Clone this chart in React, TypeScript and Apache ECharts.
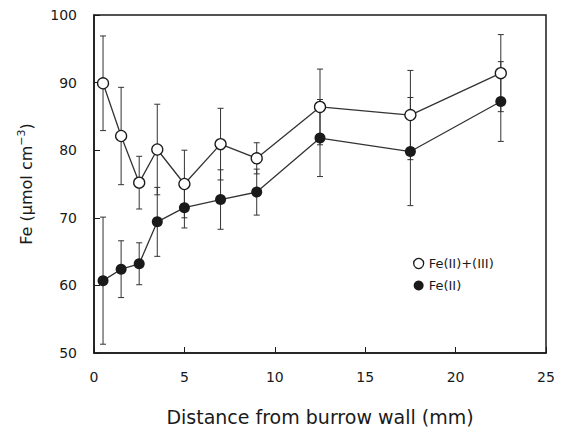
import React, { useEffect, useRef } from "react";
import * as echarts from "echarts";

const distance = [0.5, 1.5, 2.5, 3.5, 5, 7, 9, 12.5, 17.5, 22.5];
const feTotal = [89.9, 82.1, 75.2, 80.1, 75.0, 80.9, 78.8, 86.4, 85.2, 91.4];
const feTotalErr = [7.0, 7.2, 3.9, 6.7, 5.0, 5.3, 2.3, 5.6, 6.6, 5.7];
const feII = [60.7, 62.4, 63.2, 69.4, 71.5, 72.7, 73.8, 81.8, 79.8, 87.2];
const feIIErr = [9.4, 4.2, 3.1, 5.1, 3.0, 4.4, 3.4, 5.7, 8.0, 5.9];
const seriesNames = ["Fe(II)+(III)", "Fe(II)"];

const FONT = "DejaVu Sans";
const INK = "#1a1a1a";

function errData(vals: number[], errs: number[]) {
  return distance.map((x, i) => [x, vals[i] - errs[i], vals[i] + errs[i]]);
}

function renderErr(params: any, api: any) {
  const x = api.value(0);
  const lo = api.coord([x, api.value(1)]);
  const hi = api.coord([x, api.value(2)]);
  const cap = 3;
  const style = { stroke: "#333", lineWidth: 1 };
  return {
    type: "group",
    children: [
      { type: "line", shape: { x1: lo[0], y1: lo[1], x2: hi[0], y2: hi[1] }, style },
      { type: "line", shape: { x1: lo[0] - cap, y1: lo[1], x2: lo[0] + cap, y2: lo[1] }, style },
      { type: "line", shape: { x1: hi[0] - cap, y1: hi[1], x2: hi[0] + cap, y2: hi[1] }, style },
    ],
  };
}

export default function App() {
  const ref = useRef<HTMLDivElement>(null);
  useEffect(() => {
    if (!ref.current) return;
    const chart = echarts.init(ref.current, undefined, { renderer: "svg" });
    chart.setOption({
      animation: false,
      backgroundColor: "#fff",
      textStyle: { fontFamily: FONT, color: INK },
      grid: {
        left: 94,
        right: 23,
        top: 15,
        bottom: 75,
        show: true,
        borderColor: INK,
        borderWidth: 1.5,
      },
      legend: {
        orient: "vertical",
        left: 408,
        top: 252,
        itemWidth: 10,
        itemHeight: 10,
        itemGap: 9,
        icon: "circle",
        textStyle: { fontFamily: FONT, fontSize: 13, color: INK },
        data: [
          { name: seriesNames[0], itemStyle: { color: "#fff", borderColor: INK, borderWidth: 1.3 } },
          { name: seriesNames[1], itemStyle: { color: INK } },
        ],
      },
      xAxis: {
        type: "value",
        min: 0,
        max: 25,
        interval: 5,
        name: "Distance from burrow wall (mm)",
        nameLocation: "middle",
        nameGap: 54,
        nameTextStyle: { fontFamily: FONT, fontSize: 19, color: INK },
        axisLine: { show: true, lineStyle: { color: INK, width: 1.5 } },
        axisTick: { show: true, inside: true, length: 6, lineStyle: { color: INK } },
        axisLabel: { margin: 17, fontSize: 14, color: INK, fontFamily: FONT },
        splitLine: { show: false },
      },
      yAxis: {
        type: "value",
        min: 50,
        max: 100,
        interval: 10,
        name: "Fe (μmol cm{sup|−3})",
        nameLocation: "middle",
        nameGap: 57,
        nameTextStyle: {
          fontFamily: FONT,
          fontSize: 16,
          color: INK,
          rich: { sup: { fontSize: 11, verticalAlign: "top", padding: [0, 0, 10, 0], fontFamily: FONT, color: INK } },
        },
        axisLine: { show: true, lineStyle: { color: INK, width: 1.5 } },
        axisTick: { show: true, inside: true, length: 6, lineStyle: { color: INK } },
        axisLabel: { margin: 17, fontSize: 14, color: INK, fontFamily: FONT },
        splitLine: { show: false },
      },
      series: [
        {
          type: "custom",
          name: "errTotal",
          renderItem: renderErr,
          data: errData(feTotal, feTotalErr),
          encode: { x: 0, y: [1, 2] },
          z: 1,
          silent: true,
        },
        {
          type: "custom",
          name: "errII",
          renderItem: renderErr,
          data: errData(feII, feIIErr),
          encode: { x: 0, y: [1, 2] },
          z: 1,
          silent: true,
        },
        {
          type: "line",
          name: seriesNames[1],
          data: distance.map((x, i) => [x, feII[i]]),
          symbol: "circle",
          symbolSize: 11,
          itemStyle: { color: INK },
          lineStyle: { color: "#333", width: 1.3 },
          z: 3,
        },
        {
          type: "line",
          name: seriesNames[0],
          data: distance.map((x, i) => [x, feTotal[i]]),
          symbol: "circle",
          symbolSize: 11,
          itemStyle: { color: "#fff", borderColor: INK, borderWidth: 1.3 },
          lineStyle: { color: "#333", width: 1.3 },
          z: 4,
        },
      ],
    });
    return () => chart.dispose();
  }, []);
  return <div ref={ref} style={{ width: 569, height: 431, position: "absolute", left: 0, top: 0 }} />;
}
